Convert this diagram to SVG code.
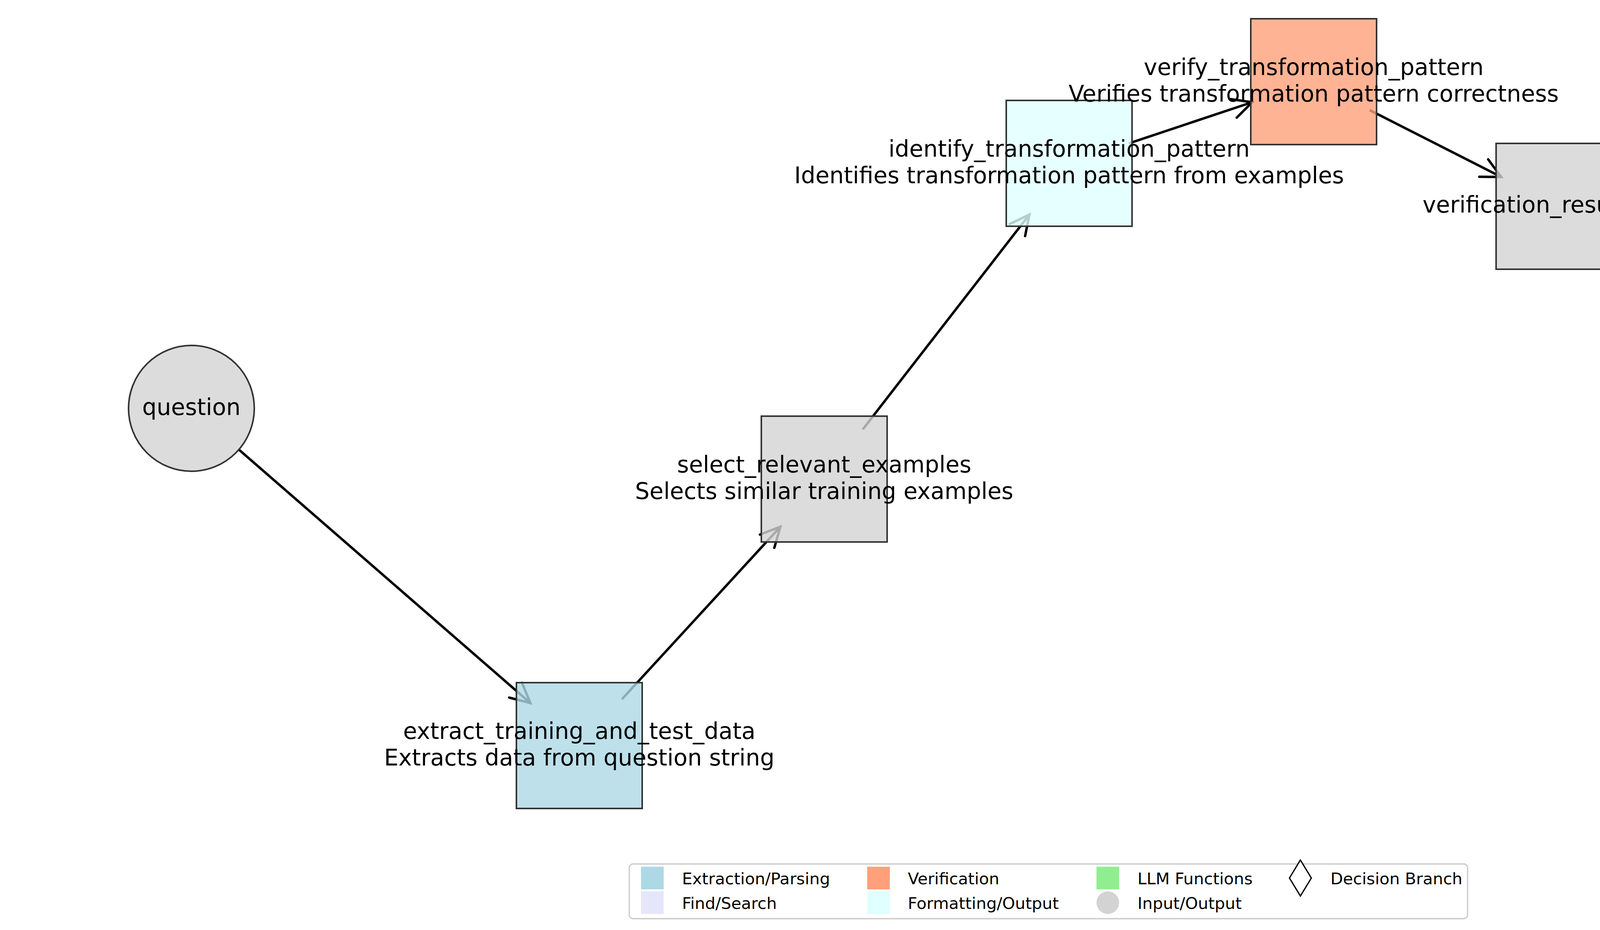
<svg xmlns="http://www.w3.org/2000/svg" width="5370" height="2380" viewBox="0 0 5370 2380">
<style>
.lbl{font-family:"DejaVu Sans","Liberation Sans",sans-serif;font-size:58.3px;fill:#000;text-anchor:middle}
.leg{font-family:"DejaVu Sans","Liberation Sans",sans-serif;font-size:41.7px;fill:#000}
.edge{fill:none;stroke:#000;stroke-width:6.25;marker-end:url(#arr)}
.box{stroke:#333;stroke-width:4;fill-opacity:0.8}
.circ{fill:#d3d3d3;fill-opacity:0.8;stroke:#333;stroke-width:4}
</style>
<defs>
<marker id="arr" markerUnits="userSpaceOnUse" markerWidth="140" markerHeight="140" refX="0" refY="0" orient="auto" overflow="visible">
<path d="M-50,-25 L0,0 L-50,25" fill="none" stroke="#000" stroke-width="6.25" stroke-linecap="round" stroke-linejoin="miter"/>
</marker>
</defs>
<rect width="5370" height="2380" fill="#fff"/>
<g id="connectors">
<line class="edge" x1="611.5" y1="1150.6" x2="1357.7" y2="1799.1"/>
<line class="edge" x1="1592" y1="1789.5" x2="1997.7" y2="1348.2"/>
<line class="edge" x1="2208.7" y1="1098.8" x2="2635.2" y2="549.2"/>
<line class="edge" x1="2889.7" y1="367" x2="3205.5" y2="261.6"/>
<line class="edge" x1="3506.5" y1="281.9" x2="3843" y2="452.8"/>
<line class="edge" x1="4131.1" y1="607.3" x2="4473.5" y2="801.2"/>
<line class="edge" x1="4754.8" y1="967.9" x2="4872" y2="1041"/>
</g>
<g id="node-question">
<circle class="circ" cx="490" cy="1045" r="161"/>
</g>
<g id="node-extract_training_and_test_data">
<rect class="box" x="1322" y="1747" width="322" height="322" fill="#add8e6"/>
</g>
<g id="node-select_relevant_examples">
<rect class="box" x="1949" y="1065" width="322" height="322" fill="#d3d3d3"/>
</g>
<g id="node-identify_transformation_pattern">
<rect class="box" x="2576" y="257" width="322" height="322" fill="#e0ffff"/>
</g>
<g id="node-verify_transformation_pattern">
<rect class="box" x="3202" y="48" width="322" height="322" fill="#ffa07a"/>
</g>
<g id="node-verification_result_lower">
<rect class="box" x="3830" y="367" width="322" height="322" fill="#d3d3d3"/>
</g>
<g id="node-apply_transformation">
<rect class="box" x="4457" y="722" width="322" height="322" fill="#e0ffff"/>
</g>
<g id="node-answer">
<circle class="circ" cx="4879" cy="1045" r="161"/>
</g>
<g id="labels">
<text class="lbl" x="490" y="1062">question</text>
<text class="lbl" x="1483" y="1891">extract_training_and_test_data</text>
<text class="lbl" x="1483" y="1959">Extracts data from question string</text>
<text class="lbl" x="2110" y="1209">select_relevant_examples</text>
<text class="lbl" x="2110" y="1277">Selects similar training examples</text>
<text class="lbl" x="2737" y="401">identify_transformation_pattern</text>
<text class="lbl" x="2737" y="469">Identifies transformation pattern from examples</text>
<text class="lbl" x="3363" y="192">verify_transformation_pattern</text>
<text class="lbl" x="3363" y="260">Verifies transformation pattern correctness</text>
<text class="lbl" x="3991" y="544">verification_result.lower</text>
<text class="lbl" x="4618" y="866">apply_transformation</text>
<text class="lbl" x="4618" y="934">Applies pattern to test input</text>
<text class="lbl" x="4879" y="1062">answer</text>
</g>
<g id="legend">
<rect x="1611" y="2211" width="2146" height="140" rx="10" ry="10" fill="#fff" fill-opacity="0.8" stroke="#ccc" stroke-width="3.3"/>
<rect x="1641" y="2218" width="58" height="58" fill="#add8e6"/>
<text class="leg" x="1746" y="2263">Extraction/Parsing</text>
<rect x="1641" y="2281" width="58" height="58" fill="#e6e6fa"/>
<text class="leg" x="1746" y="2326">Find/Search</text>
<rect x="2220" y="2218" width="58" height="58" fill="#ffa07a"/>
<text class="leg" x="2324" y="2263">Verification</text>
<rect x="2220" y="2281" width="58" height="58" fill="#e0ffff"/>
<text class="leg" x="2324" y="2326">Formatting/Output</text>
<rect x="2807" y="2218" width="58" height="58" fill="#90ee90"/>
<text class="leg" x="2912" y="2263">LLM Functions</text>
<circle cx="2836" cy="2310" r="29" fill="#d3d3d3"/>
<text class="leg" x="2912" y="2326">Input/Output</text>
<polygon points="3329,2201 3357,2247 3329,2293 3301,2247" fill="#fff" stroke="#000" stroke-width="3.3"/>
<text class="leg" x="3406" y="2263">Decision Branch</text>
</g>
</svg>
